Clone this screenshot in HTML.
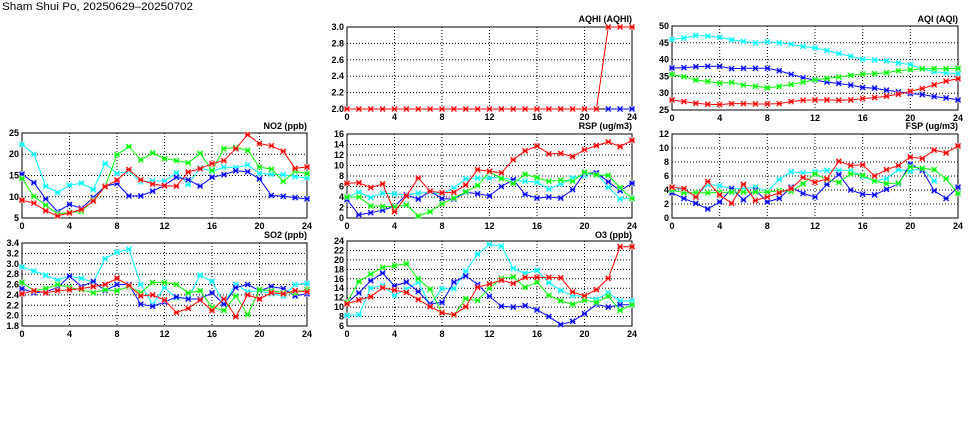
<!DOCTYPE html>
<html><head><meta charset="utf-8"><style>
html,body{margin:0;padding:0;background:#fff;width:975px;height:447px;overflow:hidden}
svg{display:block}
text{font-family:"Liberation Sans",sans-serif;font-size:9px;font-weight:bold;fill:#000}
.xl{text-anchor:middle}
.yl{text-anchor:end}
.tt{text-anchor:end}
</style></head><body>
<svg id="s" width="975" height="447" viewBox="0 0 975 447" xmlns="http://www.w3.org/2000/svg">
<text x="2" y="10" style="font-size:11px;font-weight:normal" textLength="191" lengthAdjust="spacingAndGlyphs">Sham Shui Po, 20250629–20250702</text>
<g id="grids"></g><g id="lines"></g>
<text class="tt" x="307" y="129">NO2 (ppb)</text>
<text class="tt" x="632" y="129">RSP (ug/m3)</text>
<text class="tt" x="958" y="129">FSP (ug/m3)</text>
<text class="tt" x="307" y="238">SO2 (ppb)</text>
<text class="tt" x="632" y="238">O3 (ppb)</text>
<text class="tt" x="632" y="22">AQHI (AQHI)</text>
<text class="tt" x="958" y="22">AQI (AQI)</text>
<text class="xl" x="22" y="229">0</text><text class="xl" x="69.5" y="229">4</text><text class="xl" x="117" y="229">8</text><text class="xl" x="164.5" y="229">12</text><text class="xl" x="212" y="229">16</text><text class="xl" x="259.5" y="229">20</text><text class="xl" x="307" y="229">24</text>
<text class="yl" x="19" y="136">25</text><text class="yl" x="19" y="157">20</text><text class="yl" x="19" y="178.5">15</text><text class="yl" x="19" y="200">10</text><text class="yl" x="19" y="221">5</text>
<text class="xl" x="22" y="337">0</text><text class="xl" x="69.5" y="337">4</text><text class="xl" x="117" y="337">8</text><text class="xl" x="164.5" y="337">12</text><text class="xl" x="212" y="337">16</text><text class="xl" x="259.5" y="337">20</text><text class="xl" x="307" y="337">24</text>
<text class="yl" x="19" y="246">3.4</text><text class="yl" x="19" y="256.4">3.2</text><text class="yl" x="19" y="266.8">3.0</text><text class="yl" x="19" y="277.1">2.8</text><text class="yl" x="19" y="287.5">2.6</text><text class="yl" x="19" y="297.9">2.4</text><text class="yl" x="19" y="308.3">2.2</text><text class="yl" x="19" y="318.6">2.0</text><text class="yl" x="19" y="329">1.8</text>
<text class="xl" x="347" y="120">0</text><text class="xl" x="394.5" y="120">4</text><text class="xl" x="442" y="120">8</text><text class="xl" x="489.5" y="120">12</text><text class="xl" x="537" y="120">16</text><text class="xl" x="584.5" y="120">20</text><text class="xl" x="632" y="120">24</text>
<text class="yl" x="344" y="30">3.0</text><text class="yl" x="344" y="46.4">2.8</text><text class="yl" x="344" y="62.8">2.6</text><text class="yl" x="344" y="79.2">2.4</text><text class="yl" x="344" y="95.6">2.2</text><text class="yl" x="344" y="112">2.0</text>
<text class="xl" x="347" y="229">0</text><text class="xl" x="394.5" y="229">4</text><text class="xl" x="442" y="229">8</text><text class="xl" x="489.5" y="229">12</text><text class="xl" x="537" y="229">16</text><text class="xl" x="584.5" y="229">20</text><text class="xl" x="632" y="229">24</text>
<text class="yl" x="344" y="137">16</text><text class="yl" x="344" y="147.5">14</text><text class="yl" x="344" y="158">12</text><text class="yl" x="344" y="168.5">10</text><text class="yl" x="344" y="179">8</text><text class="yl" x="344" y="189.5">6</text><text class="yl" x="344" y="200">4</text><text class="yl" x="344" y="210.5">2</text><text class="yl" x="344" y="221">0</text>
<text class="xl" x="347" y="337">0</text><text class="xl" x="394.5" y="337">4</text><text class="xl" x="442" y="337">8</text><text class="xl" x="489.5" y="337">12</text><text class="xl" x="537" y="337">16</text><text class="xl" x="584.5" y="337">20</text><text class="xl" x="632" y="337">24</text>
<text class="yl" x="344" y="244">24</text><text class="yl" x="344" y="253.4">22</text><text class="yl" x="344" y="262.9">20</text><text class="yl" x="344" y="272.3">18</text><text class="yl" x="344" y="281.8">16</text><text class="yl" x="344" y="291.2">14</text><text class="yl" x="344" y="300.7">12</text><text class="yl" x="344" y="310.1">10</text><text class="yl" x="344" y="319.6">8</text><text class="yl" x="344" y="329">6</text>
<text class="xl" x="672" y="121">0</text><text class="xl" x="719.7" y="121">4</text><text class="xl" x="767.3" y="121">8</text><text class="xl" x="815" y="121">12</text><text class="xl" x="862.7" y="121">16</text><text class="xl" x="910.3" y="121">20</text><text class="xl" x="958" y="121">24</text>
<text class="yl" x="669" y="29">50</text><text class="yl" x="669" y="45.8">45</text><text class="yl" x="669" y="62.6">40</text><text class="yl" x="669" y="79.4">35</text><text class="yl" x="669" y="96.2">30</text><text class="yl" x="669" y="113">25</text>
<text class="xl" x="672" y="229">0</text><text class="xl" x="719.7" y="229">4</text><text class="xl" x="767.3" y="229">8</text><text class="xl" x="815" y="229">12</text><text class="xl" x="862.7" y="229">16</text><text class="xl" x="910.3" y="229">20</text><text class="xl" x="958" y="229">24</text>
<text class="yl" x="669" y="137">12</text><text class="yl" x="669" y="151">10</text><text class="yl" x="669" y="165">8</text><text class="yl" x="669" y="179">6</text><text class="yl" x="669" y="193">4</text><text class="yl" x="669" y="207">2</text><text class="yl" x="669" y="221">0</text>
</svg>
<script>
var N=null;
var P=[
{L:22,R:307,T:133,B:218,y0:5,y1:25,st:5,d:{
c:[22.3,20,12.5,11,12.7,13.2,11.7,17.8,15.5,16,13.5,13.7,13.7,15.6,12.9,16.8,16,17,16.8,17.5,15.5,15.3,15.2,14.7,14.5],
b:[15.3,13.3,9.5,6.5,8.2,7.3,9.8,12.5,13.1,10.2,10.2,11.3,12.7,14.6,14,12.5,14.6,15.2,16.1,15.9,14.2,10.3,10.1,9.8,9.5],
g:[14.3,10.1,8,6,6.3,6.5,9.2,12.4,19.9,21.8,18.7,20.3,19,18.5,18,20.2,16.2,21.3,21.6,20.9,17,16.5,13.6,16,15.4],
r:[9.2,8.5,6.7,5.5,6.2,7,9,12.4,13.9,16.4,14,13,12.6,12.5,15.8,16.6,17.8,18.5,21.3,24.6,22.5,22,20.7,16.7,17]}},
{L:22,R:307,T:243,B:326,y0:1.8,y1:3.4,st:0.2,d:{
c:[2.94,2.86,2.78,2.68,2.76,2.72,2.64,3.1,3.22,3.28,2.6,2.22,2.54,2.34,2.34,2.78,2.66,2.24,2.6,2.46,2.48,2.42,2.38,2.6,2.62],
b:[2.52,2.44,2.46,2.54,2.76,2.56,2.66,2.48,2.6,2.6,2.22,2.18,2.26,2.36,2.32,2.32,2.44,2.22,2.54,2.6,2.48,2.56,2.52,2.38,2.42],
g:[2.64,2.48,2.52,2.6,2.54,2.5,2.44,2.5,2.48,2.56,2.44,2.64,2.64,2.6,2.44,2.48,2.16,2.1,2.38,2.02,2.5,2.48,2.44,2.44,2.5],
r:[2.42,2.48,2.44,2.48,2.5,2.52,2.56,2.6,2.72,2.58,2.38,2.4,2.3,2.06,2.14,2.3,2.1,2.32,1.98,2.4,2.32,2.44,2.42,2.48,2.46]}},
{L:347,R:632,T:27,B:109,y0:2,y1:3,st:0.2,d:{
b:[N,N,N,N,N,N,N,N,N,N,N,N,N,N,N,N,N,N,N,N,N,N,2,2,2],
r:[2,2,2,2,2,2,2,2,2,2,2,2,2,2,2,2,2,2,2,2,2,2,3,3,3]}},
{L:347,R:632,T:134,B:218,y0:0,y1:16,st:2,d:{
c:[4,4.9,3.9,4.7,4.6,4.4,4.7,4.9,4.6,5.7,7.5,7.6,7.6,7.8,7.2,7,6.8,5.5,6.5,7.6,8.1,8.5,5.9,3.6,3.8],
b:[3.5,0.6,1,1.5,2.2,4.4,3.6,5.1,3.7,3.6,4.9,4.6,4.2,6,7.3,4.5,3.8,4,3.8,5.4,8.5,8.6,6.9,5.2,6.6],
g:[4,4,2.3,2.2,2.1,2.5,0.4,1.2,2.7,3.8,5,6.2,8.8,7.5,6.6,8.3,7.7,7,7.2,7,8.7,8.2,8.1,5.8,3.7],
r:[6.6,6.7,5.8,6.5,1.2,4.2,7.6,5.1,4.8,4.9,6.3,9.2,8.9,8.6,11.1,12.8,13.7,12.2,12.3,11.7,13,13.8,14.5,13.6,14.8]}},
{L:347,R:632,T:241,B:326,y0:6,y1:24,st:2,d:{
c:[8.2,8.4,14,14.6,12.5,13.8,15.3,10.5,13.9,13.9,17.6,21.2,23.3,22.9,18.2,17.1,17.8,15.2,13.5,12.5,12.2,11.6,13,11.3,11.3],
b:[10.9,13,15.6,17.2,14.5,15.3,13.3,10.7,11,15.3,16.6,14.8,12.3,10.2,10,10.3,9.4,8,6.3,7,8.6,10.6,10,10.5,10.5],
g:[11,15.4,17,18.4,18.8,19.2,16,13.8,8.8,8.3,11.8,11.4,14,16.1,16.4,14.2,15.3,12.5,11.3,10.6,11.5,11,12.3,9.3,10.5],
r:[10.7,11.5,12.2,14.1,13.6,13.1,11.6,10.1,8.8,8.4,10.1,14.2,14.9,15.7,15,16.3,16.3,16.3,16.2,13.2,12.4,13.7,16.1,22.8,22.8]}},
{L:672,R:958,T:26,B:110,y0:25,y1:50,st:5,d:{
c:[46,46.4,47.2,47,46.6,45.9,45.4,45,45.3,45,44.6,43.9,43.5,42.7,41.8,41,40.1,39.9,39.6,39,38.5,37.2,36.4,36.1,35.8],
b:[37.5,37.6,37.9,38,38,37.3,37.4,37.4,37.4,36.7,35.6,34.6,33.9,33.3,32.9,32.4,31.7,31.5,30.9,30.4,29.9,29.6,29,28.6,28],
g:[35.6,34.9,33.9,33.5,33,33.2,32.4,32.1,31.6,32,32.6,33.3,34,34.4,34.8,35.3,35.7,35.8,36.1,36.7,37,37.3,37.3,37.3,37.4],
r:[28,27.5,27,26.7,26.6,26.9,26.9,26.8,26.8,26.9,27.5,27.9,28,28,27.9,28,28.4,28.7,29.1,29.7,30.6,31.4,32.5,33.6,34.3]}},
{L:672,R:958,T:134,B:218,y0:0,y1:12,st:2,d:{
c:[4.4,4,3.1,4.8,4.6,4.2,4.2,4.4,3.8,5.5,6.6,6.4,6.6,6.8,6.8,6.8,5.9,5.3,5.6,6.9,6.7,7.1,5.3,N,N],
b:[3.6,2.8,2.1,1.3,2.3,4.2,2.6,4,2.3,2.8,4.4,3.5,3,4.8,6.2,4,3.4,3.3,4.1,4.9,7.7,6.8,3.9,2.8,4.4],
g:[4,3.6,3.6,3.6,3.65,3.7,3.7,3.7,3.7,3.9,3.8,4.9,6.3,5.5,5.1,6.3,6.1,5.3,4.9,5,7.3,7.1,6.9,5.6,3.5],
r:[4.4,4.2,3,5.2,3.3,2.1,4.8,2.5,3,3.6,4.2,5.8,5.1,5.6,8.1,7.5,7.6,6,6.9,7.5,8.7,8.5,9.7,9.3,10.3]}}
];
var col={c:"#00ffff",b:"#0000ff",g:"#00ff00",r:"#ff0000"};
var halo={c:"#ccffff",b:"#ccccff",g:"#ccffcc",r:"#ffcccc"};
var G="",Ls="";
P.forEach(function(p){
 var W=p.R-p.L,H=p.B-p.T;
 for(var k=1;k<6;k++){var x=p.L+k*W/6;G+='<line x1="'+x+'" y1="'+p.T+'" x2="'+x+'" y2="'+p.B+'" stroke="#000" stroke-width="1" stroke-dasharray="1,2"/>';}
 var n=Math.round((p.y1-p.y0)/p.st);
 for(var k=1;k<n;k++){var y=p.B-k*H/n;G+='<line x1="'+p.L+'" y1="'+y+'" x2="'+p.R+'" y2="'+y+'" stroke="#000" stroke-width="1" stroke-dasharray="1,2"/>';}
 G+='<rect x="'+p.L+'" y="'+p.T+'" width="'+W+'" height="'+H+'" fill="none" stroke="#000" stroke-width="1"/>';
 ["c","b","g","r"].forEach(function(s){
  var a=p.d[s];if(!a)return;var pts=[],seg="";
  a.forEach(function(v,i){
   if(v===null){if(pts.length)seg+='<polyline points="'+pts.join(" ")+'" fill="none" stroke="'+col[s]+'" stroke-width="1"/>';pts=[];return;}
   var x=p.L+i*W/24,y=p.B-(v-p.y0)/(p.y1-p.y0)*H;pts.push(x.toFixed(1)+","+y.toFixed(1));
  });
  if(pts.length)seg+='<polyline points="'+pts.join(" ")+'" fill="none" stroke="'+col[s]+'" stroke-width="1"/>';
  a.forEach(function(v,i){if(v===null)return;
   var x=p.L+i*W/24,y=p.B-(v-p.y0)/(p.y1-p.y0)*H;
   seg+='<rect x="'+(x-3)+'" y="'+(y-3)+'" width="6" height="6" fill="'+halo[s]+'" opacity="0.6"/>';
   seg+='<path d="M'+(x-2.5)+' '+(y-2.5)+'L'+(x+2.5)+' '+(y+2.5)+'M'+(x-2.5)+' '+(y+2.5)+'L'+(x+2.5)+' '+(y-2.5)+'M'+(x-2.5)+' '+y+'L'+(x+2.5)+' '+y+'" stroke="'+col[s]+'" stroke-width="1.2"/>';
  });
  Ls+=seg;
 });
});
document.getElementById("grids").innerHTML=G;
document.getElementById("lines").innerHTML=Ls;
</script>
</body></html>
